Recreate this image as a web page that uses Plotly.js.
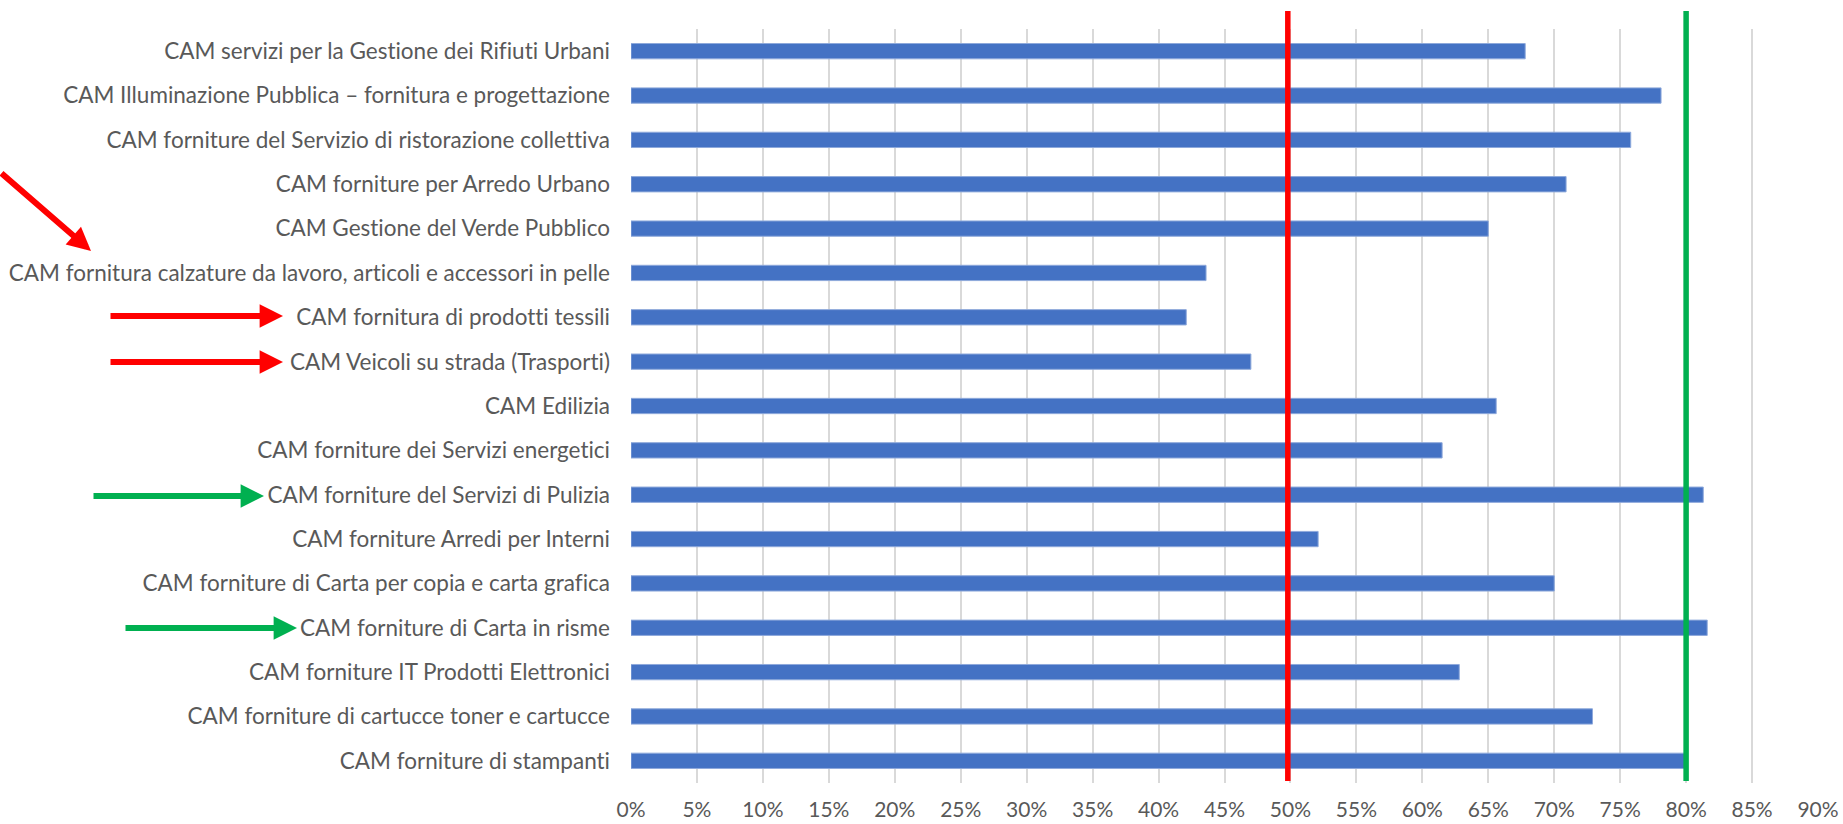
<!DOCTYPE html>
<html>
<head>
<meta charset="utf-8">
<script src="https://cdn.plot.ly/plotly-3.0.1.min.js"></script>
<style>
  html, body { margin: 0; padding: 0; background: #ffffff; }
  #chart { width: 1843px; height: 824px; }
  svg text { font-variant-ligatures: none; font-feature-settings: "liga" 0, "clig" 0; }
</style>
</head>
<body>
<div id="chart"></div>
<script>
// ---- Data ----
const categories = [
  "CAM servizi per la Gestione dei Rifiuti Urbani",
  "CAM Illuminazione Pubblica \u2013 fornitura e progettazione",
  "CAM forniture del Servizio di ristorazione collettiva",
  "CAM forniture per Arredo Urbano",
  "CAM Gestione del Verde Pubblico",
  "CAM fornitura calzature da lavoro, articoli e accessori in pelle",
  "CAM fornitura di prodotti tessili",
  "CAM Veicoli su strada (Trasporti)",
  "CAM Edilizia",
  "CAM forniture dei Servizi energetici",
  "CAM forniture del Servizi di Pulizia",
  "CAM forniture Arredi per Interni",
  "CAM forniture di Carta per copia e carta grafica",
  "CAM forniture di Carta in risme",
  "CAM forniture IT Prodotti Elettronici",
  "CAM forniture di cartucce toner e cartucce",
  "CAM forniture di stampanti"
];
const values = [0.678, 0.781, 0.758, 0.709, 0.650, 0.436, 0.421, 0.470, 0.656,
                0.615, 0.813, 0.521, 0.700, 0.816, 0.628, 0.729, 0.799];
const thresholdLow = 0.498;   // red line
const thresholdHigh = 0.80;   // green line
const tickValues = [0,0.05,0.10,0.15,0.20,0.25,0.30,0.35,0.40,0.45,0.50,0.55,0.60,0.65,0.70,0.75,0.80,0.85,0.90];
const tickLabels = ["0%","5%","10%","15%","20%","25%","30%","35%","40%","45%","50%","55%","60%","65%","70%","75%","80%","85%","90%"];

// ---- Layout geometry (pixels) ----
const W = 1843, H = 824;
const L = 631, R = 25, T = 29, B = 41;
const PW = W - L - R, PH = H - T - B;
function px2paperX(px) { return (px - L) / PW; }
function px2paperY(py) { return (H - B - py) / PH; }

const FONT = "Lato, 'Open Sans', sans-serif";
const TXT = "#595959";

const trace = {
  type: "bar",
  orientation: "h",
  y: categories,
  x: values,
  marker: { color: "#4472C4", line: { color: "#8EA9DB", width: 1 } },
  width: 0.345,
  hoverinfo: "y+x"
};

function arrow(tipX, tipY, tailX, tailY, color) {
  return {
    xref: "paper", yref: "paper",
    x: px2paperX(tipX), y: px2paperY(tipY),
    ax: tailX - tipX, ay: tailY - tipY,
    axref: "pixel", ayref: "pixel",
    text: "", showarrow: true,
    arrowhead: 2, arrowsize: 0.78, arrowwidth: 6,
    arrowcolor: color, standoff: 0
  };
}

const annotations = [
  arrow(91, 251, -16, 172, "#FF0000"),
  arrow(283, 316, 109, 316, "#FF0000"),
  arrow(283, 362, 109, 362, "#FF0000"),
  arrow(264, 496, 92, 496, "#00B050"),
  arrow(297, 628, 124, 628, "#00B050")
];

const shapes = [
  { type: "line", xref: "x", yref: "paper", x0: thresholdLow, x1: thresholdLow,
    y0: px2paperY(781), y1: px2paperY(11), line: { color: "#FF0000", width: 5.5 } },
  { type: "line", xref: "x", yref: "paper", x0: thresholdHigh, x1: thresholdHigh,
    y0: px2paperY(781), y1: px2paperY(11), line: { color: "#00B050", width: 5.5 } }
];

const layout = {
  width: W, height: H,
  margin: { l: L, r: R, t: T, b: B, pad: 0 },
  paper_bgcolor: "#ffffff",
  plot_bgcolor: "#ffffff",
  showlegend: false,
  font: { family: FONT, color: TXT, size: 22 },
  xaxis: {
    range: [0, 0.9],
    tickvals: tickValues,
    ticktext: tickLabels,
    showgrid: true, gridcolor: "#D9D9D9", gridwidth: 1.5,
    zeroline: false, showline: false, ticks: "",
    ticklabelstandoff: 12,
    tickfont: { family: FONT, color: TXT, size: 21 },
    fixedrange: true
  },
  yaxis: {
    type: "category",
    categoryorder: "array",
    categoryarray: categories,
    autorange: "reversed",
    showgrid: false, zeroline: false, showline: false, ticks: "",
    ticklabelstandoff: 20,
    tickfont: { family: FONT, color: TXT, size: 22.5 },
    fixedrange: true
  },
  shapes: shapes,
  annotations: annotations
};

Plotly.newPlot("chart", [trace], layout, { displayModeBar: false, responsive: false });
</script>
</body>
</html>
